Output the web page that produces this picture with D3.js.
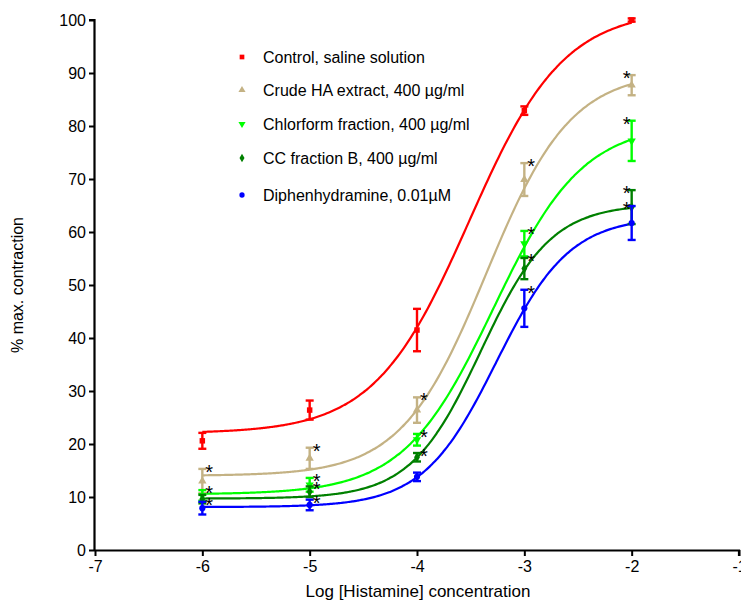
<!DOCTYPE html>
<html>
<head>
<meta charset="utf-8">
<script src="https://cdn.jsdelivr.net/npm/d3@7"></script>
<style>
  body { margin: 0; background: #fff; }
  svg text { font-family: Arial, "Liberation Sans", Helvetica, sans-serif; }
</style>
</head>
<body>
<div id="vis"></div>
<script>
const WIDTH = 741;
const HEIGHT = 601;

// log [histamine] doses
const doses = [-6, -5, -4, -3, -2];

const seriesNames = [
  "Control, saline solution",
  "Crude HA extract, 400 \u00b5g/ml",
  "Chlorform fraction, 400 \u00b5g/ml",
  "CC fraction B, 400 \u00b5g/ml",
  "Diphenhydramine, 0.01\u00b5M"
];
const seriesColors = ["#ff0000", "#c4b284", "#00ff00", "#008000", "#0000ff"];
const seriesSymbols = [d3.symbolSquare, d3.symbolTriangle, d3.symbolTriangle, d3.symbolDiamond, d3.symbolCircle];

// mean % max contraction
const controlMean = [20.6, 26.4, 41.5, 82.9, 100];
const crudeMean = [13.0, 17.3, 26.4, 69.9, 87.7];
const chlorMean = [10.3, 12.3, 20.8, 57.8, 77.2];
const ccMean = [9.6, 11.0, 17.5, 53.1, 64.7];
const diphenMean = [7.9, 8.5, 13.8, 45.6, 61.7];

// SEM
const controlSem = [1.5, 1.8, 4.0, 0.8, 0.3];
const crudeSem = [2.3, 2.0, 2.4, 3.1, 1.9];
const chlorSem = [1.0, 1.3, 1.1, 2.4, 3.8];
const ccSem = [0.8, 1.0, 0.8, 2.0, 3.2];
const diphenSem = [1.2, 1.0, 0.8, 3.5, 3.2];

// sigmoidal dose-response fit: bottom, top, logEC50, hill slope
const fitBottom = [22, 14, 10.5, 9.7, 8.1];
const fitTop = [102, 90.3, 80.5, 65.3, 62.9];
const fitLogEC50 = [-3.515, -3.355, -3.29, -3.406, -3.26];
const fitHill = [0.984, 1.1, 1.04, 1.33, 1.27];

// significance marks (series index, dose index)
const starSeries = [1, 2, 4, 1, 2, 3, 4, 1, 2, 3, 1, 2, 3, 4, 1, 2, 3, 4];
const starDose = [0, 0, 0, 1, 1, 1, 1, 2, 2, 2, 3, 3, 3, 3, 4, 4, 4, 4];

const xTicks = [-7, -6, -5, -4, -3, -2, -1];
const yTicks = [0, 10, 20, 30, 40, 50, 60, 70, 80, 90, 100];

const means = [controlMean, crudeMean, chlorMean, ccMean, diphenMean];
const sems = [controlSem, crudeSem, chlorSem, ccSem, diphenSem];

const svg = d3.select("#vis").append("svg")
  .attr("width", WIDTH).attr("height", HEIGHT);

const x = d3.scaleLinear().domain([-7, -1]).range([95, 739]);
const y = d3.scaleLinear().domain([0, 100]).range([550, 20]);

// axes
const xAxis = svg.append("g")
  .attr("transform", `translate(0,${y(0)})`)
  .call(d3.axisBottom(x).tickValues(xTicks).tickSize(6).tickPadding(5).tickFormat(d3.format("d")));
const yAxis = svg.append("g")
  .attr("transform", `translate(${x(-7)},0)`)
  .call(d3.axisLeft(y).tickValues(yTicks).tickSize(6).tickPadding(3));

[xAxis, yAxis].forEach(a => {
  a.select(".domain").attr("stroke", "#000").attr("stroke-width", 2.2);
  a.selectAll(".tick line").attr("stroke", "#000").attr("stroke-width", 2);
  a.selectAll(".tick text").attr("fill", "#000").style("font-size", "16px")
    .text(d => d < 0 ? "-" + Math.abs(d) : d);
});
xAxis.select(".domain").attr("d", `M${x(-7)},0.5H${x(-1)}V6`);
yAxis.select(".domain").attr("d", `M-0.5,${y(0)}V${y(100)}H-6`);

svg.append("text")
  .attr("x", 418).attr("y", 597)
  .attr("text-anchor", "middle")
  .style("font-size", "17px")
  .text("Log [Histamine] concentration");

svg.append("text")
  .attr("transform", `translate(23,${(y(0) + y(100)) / 2}) rotate(-90)`)
  .attr("text-anchor", "middle")
  .style("font-size", "16px")
  .text("% max. contraction");

// fitted curves
const curveXs = d3.range(-6, -1.999, 0.02);
const line = d3.line().x(d => x(d[0])).y(d => y(d[1])).curve(d3.curveMonotoneX);

seriesNames.forEach((name, i) => {
  const pts = curveXs.map(v => [v,
    fitBottom[i] + (fitTop[i] - fitBottom[i]) / (1 + Math.pow(10, (fitLogEC50[i] - v) * fitHill[i]))]);
  svg.append("path")
    .attr("d", line(pts))
    .attr("fill", "none")
    .attr("stroke", seriesColors[i])
    .attr("stroke-width", 2.2);
});

// error bars and markers
seriesNames.forEach((name, i) => {
  const g = svg.append("g");
  doses.forEach((dose, j) => {
    const m = means[i][j], s = sems[i][j];
    const cx = x(dose);
    g.append("line")
      .attr("x1", cx).attr("x2", cx)
      .attr("y1", y(m + s)).attr("y2", y(m - s))
      .attr("stroke", seriesColors[i]).attr("stroke-width", 2.4);
    [m + s, m - s].forEach(v => {
      g.append("line")
        .attr("x1", cx - 4).attr("x2", cx + 4)
        .attr("y1", y(v)).attr("y2", y(v))
        .attr("stroke", seriesColors[i]).attr("stroke-width", 2.4);
    });
    const rot = i === 2 ? 180 : 0;
    g.append("path")
      .attr("d", d3.symbol().type(seriesSymbols[i]).size(30)())
      .attr("transform", `translate(${cx},${y(m)}) rotate(${rot})`)
      .attr("fill", seriesColors[i]);
  });
});

// significance stars
starSeries.forEach((si, k) => {
  const dj = starDose[k];
  const top = means[si][dj] + sems[si][dj];
  const last = dj === doses.length - 1;
  svg.append("text")
    .attr("x", x(doses[dj]) + (last ? -1 : 3))
    .attr("y", y(top) + 10)
    .attr("text-anchor", last ? "end" : "start")
    .style("font-size", "20px")
    .attr("fill", "#000")
    .text("*");
});

// legend
const legendY = [57, 90, 124, 158, 195];
seriesNames.forEach((name, i) => {
  const rot = i === 2 ? 180 : 0;
  svg.append("path")
    .attr("d", d3.symbol().type(seriesSymbols[i]).size(22)())
    .attr("transform", `translate(242,${legendY[i]}) rotate(${rot})`)
    .attr("fill", seriesColors[i]);
  svg.append("text")
    .attr("x", 263).attr("y", legendY[i])
    .attr("dy", "0.35em")
    .style("font-size", "16px")
    .text(name);
});
</script>
</body>
</html>
